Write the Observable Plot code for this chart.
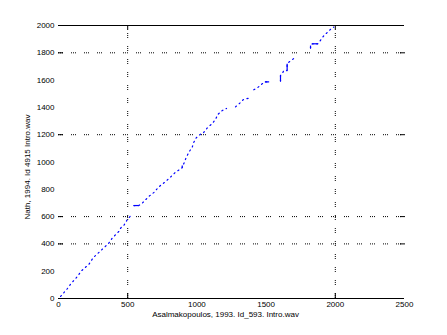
<!DOCTYPE html>
<html><head><meta charset="utf-8">
<script src="https://cdn.jsdelivr.net/npm/d3@7"></script>
<script src="https://cdn.jsdelivr.net/npm/@observablehq/plot@0.6"></script>
<style>body{margin:0;background:#fff}</style>
</head><body><div id="chart"></div>
<script>
const xTicks = [0, 500, 1000, 1500, 2000, 2500];
const yTicks = [0, 200, 400, 600, 800, 1000, 1200, 1400, 1600, 1800, 2000];
const gridX = [500, 2000];
const gridY = [400, 600, 1200, 1800];
const xLabel = "Asalmakopoulos, 1993. Id_593. Intro.wav";
const yLabel = "Nath, 1994. Id 4915 Intro.wav";

// path points, with segment ids where the path jumps
const pathX = [15,27,63,89,132,166,195,219,250,286,327,363,388,436,441,455,472,496,513,532,
  544,580,605,652,701,708,737,768,809,845,894,894,905,922,942,966,978,995,1026,1045,1079,1110,1134,1151,1183,1214,
  1279,1310,1334,1382,
  1411,1440,1472,1491,1522,
  1604,1604,1616,1628,1652,1652,1664,1688,1712,
  1821,1821,1833,1873,1888,1912,1946,1972,1989];
const pathY = [15,29,71,107,156,203,229,249,298,332,371,405,442,491,505,522,535,576,596,620,
  681,681,698,747,786,799,828,852,889,925,957,974,987,1031,1072,1108,1145,1177,1204,1211,1255,1280,1311,1348,1377,1392,
  1404,1431,1456,1470,
  1529,1546,1573,1587,1587,
  1592,1634,1646,1670,1670,1719,1731,1749,1768,
  1834,1853,1866,1866,1885,1919,1953,1978,1988];
const pathSeg = [0,0,0,0,0,0,0,0,0,0,0,0,0,0,0,0,0,0,0,0,
  1,1,1,1,1,1,1,1,1,1,1,1,1,1,1,1,1,1,1,1,1,1,1,1,1,1,
  2,2,2,2,
  3,3,3,3,3,
  4,4,4,4,4,4,4,4,4,
  5,5,5,5,5,5,5,5,5];

// flat (solid) runs of the path
const runX1 = [544, 1491, 1833, 894, 1604, 1652, 1821];
const runX2 = [580, 1522, 1873, 894, 1604, 1652, 1821];
const runY1 = [681, 1587, 1866, 957, 1592, 1670, 1834];
const runY2 = [681, 1587, 1866, 974, 1634, 1719, 1853];

const path = pathX.map((x, i) => ({x, y: pathY[i], s: pathSeg[i]}));
const runs = runX1.map((x1, i) => ({x1, x2: runX2[i], y1: runY1[i], y2: runY2[i]}));
const dotted = "1,1,1,1,1,8";

const chart = Plot.plot({
  width: 447, height: 335,
  marginLeft: 58, marginRight: 43, marginTop: 25, marginBottom: 37,
  style: {fontFamily: "Liberation Sans, Helvetica, Arial, sans-serif", fontSize: "8px", background: "#fff", color: "#000"},
  x: {domain: [0, 2500], axis: null},
  y: {domain: [0, 2000], axis: null},
  marks: [
    Plot.ruleY(gridY, {stroke: "#000", strokeDasharray: dotted}),
    Plot.ruleX(gridX, {y1: 0, y2: 2000, stroke: "#000", strokeDasharray: dotted}),
    Plot.ruleY([0, 2000], {stroke: "#000", strokeWidth: 1}),
    Plot.axisY({anchor: "left", ticks: gridY, tickSize: -5, tickFormat: () => "", label: null}),
    Plot.axisY({anchor: "right", ticks: gridY, tickSize: -5, tickFormat: () => "", label: null}),
    Plot.axisX({anchor: "bottom", ticks: gridX, tickSize: -5, tickFormat: () => "", label: null}),
    Plot.axisX({anchor: "top", ticks: gridX, tickSize: -4, tickFormat: () => "", label: null}),
    Plot.axisY({anchor: "left", ticks: yTicks, tickSize: 0, tickPadding: 4, tickFormat: d => String(d), label: null}),
    Plot.axisX({anchor: "bottom", ticks: xTicks, tickSize: 0, tickPadding: 3, tickFormat: d => String(d), label: null}),
    Plot.line(path, {x: "x", y: "y", z: "s", stroke: "#0000ff", strokeWidth: 1.2, strokeDasharray: "1.2,3.6"}),
    Plot.link(runs, {x1: "x1", x2: "x2", y1: "y1", y2: "y2", stroke: "#0000ff", strokeWidth: 1.2}),
    Plot.text([xLabel], {frameAnchor: "bottom", dx: -6, dy: 16, text: d => d, textAnchor: "middle", lineAnchor: "middle", fontSize: 8}),
    Plot.text([yLabel], {frameAnchor: "left", dx: -31, dy: 5, rotate: -90, text: d => d, textAnchor: "middle", lineAnchor: "middle", fontSize: 8})
  ]
});
document.getElementById("chart").appendChild(chart);
</script>
</body></html>
